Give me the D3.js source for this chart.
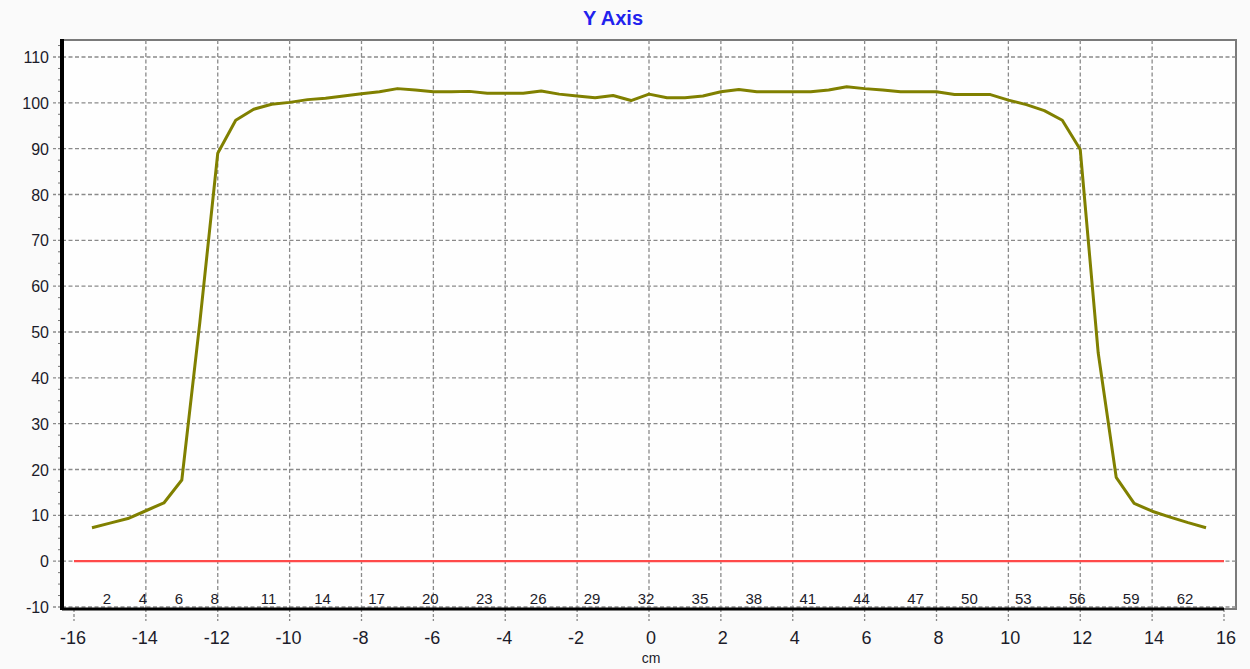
<!DOCTYPE html>
<html>
<head>
<meta charset="utf-8">
<script src="https://cdn.jsdelivr.net/npm/d3@7"></script>
<style>
  body { margin: 0; background: #fafafa; }
  svg { display: block; font-family: "Liberation Sans", Arial, sans-serif; }
</style>
</head>
<body>
<svg id="drawing_region"></svg>
<script>
// profile positions (cm)
const positions = [
  -15.5, -15, -14.5, -14, -13.5, -13, -12.5, -12, -11.5, -11, -10.5, -10,
  -9.5, -9, -8.5, -8, -7.5, -7, -6.5, -6, -5.5, -5, -4.5, -4, -3.5, -3,
  -2.5, -2, -1.5, -1, -0.5, 0, 0.5, 1, 1.5, 2, 2.5, 3, 3.5, 4, 4.5, 5,
  5.5, 6, 6.5, 7, 7.5, 8, 8.5, 9, 9.5, 10, 10.5, 11, 11.5, 12, 12.5, 13,
  13.5, 14, 14.5, 15, 15.5
];
// measured dose (%)
const doses = [
  7.3, 8.3, 9.3, 11.0, 12.7, 17.7, 52.0, 89.0, 96.2, 98.6, 99.7, 100.1,
  100.7, 101.0, 101.5, 102.0, 102.4, 103.1, 102.8, 102.4, 102.4, 102.5, 102.1, 102.1, 102.1, 102.6,
  101.9, 101.5, 101.1, 101.6, 100.5, 101.9, 101.1, 101.1, 101.5, 102.4, 102.9, 102.4, 102.4, 102.4, 102.4, 102.8,
  103.5, 103.1, 102.8, 102.4, 102.4, 102.4, 101.8, 101.8, 101.8, 100.6, 99.6, 98.3, 96.2, 89.8, 45.4, 18.3,
  12.6, 10.9, 9.6, 8.4, 7.3
];
// point numbers shown along the bottom
const pointLabels = [2, 4, 6, 8, 11, 14, 17, 20, 23, 26, 29, 32, 35, 38, 41, 44, 47, 50, 53, 56, 59, 62];
const xTicks = [-16, -14, -12, -10, -8, -6, -4, -2, 0, 2, 4, 6, 8, 10, 12, 14, 16];
const yTicks = [-10, 0, 10, 20, 30, 40, 50, 60, 70, 80, 90, 100, 110];
const yMinorTicks = [-7.5, -5, -2.5, 2.5, 5, 7.5, 12.5, 15, 17.5, 22.5, 25, 27.5, 32.5, 35, 37.5,
  42.5, 45, 47.5, 52.5, 55, 57.5, 62.5, 65, 67.5, 72.5, 75, 77.5, 82.5, 85, 87.5,
  92.5, 95, 97.5, 102.5, 105, 107.5, 112.5];
const baseline = [{x: -16, y: 0}, {x: 16, y: 0}];

class ProfileChart {
  constructor( config, data ) {
    this.config = {
      parent: config.parent,
      width: config.width || 1250,
      height: config.height || 669,
      frame: config.frame
    };
    this.data = data;
    this.init();
  }

  init() {
    let self = this;
    self.svg = d3.select( self.config.parent )
      .attr('width', self.config.width)
      .attr('height', self.config.height);

    self.xscale = d3.scaleLinear().domain([-16, 16]).range([74, 1224]);
    self.yscale = d3.scaleLinear().domain([-10, 110]).range([607, 57]);

    self.svg.append('rect')
      .attr('width', self.config.width).attr('height', self.config.height)
      .attr('fill', '#fafafa');
  }

  render() {
    let self = this;
    const f = self.config.frame;
    const dash = '4,2.5';

    // plot area + frame
    self.svg.append('rect')
      .attr('x', f.left).attr('y', f.top)
      .attr('width', f.right - f.left).attr('height', f.bottom - f.top)
      .attr('fill', '#fefefe').attr('stroke', '#7a7a7a').attr('stroke-width', 2);

    // grid
    self.svg.append('g').selectAll('line')
      .data(yTicks).enter().append('line')
      .attr('x1', f.left).attr('x2', f.right)
      .attr('y1', d => self.yscale(d)).attr('y2', d => self.yscale(d))
      .attr('stroke', '#8a8a8a').attr('stroke-width', 1.3).attr('stroke-dasharray', dash);
    self.svg.append('g').selectAll('line')
      .data(xTicks.filter(d => d > -16 && d < 16)).enter().append('line')
      .attr('x1', d => self.xscale(d)).attr('x2', d => self.xscale(d))
      .attr('y1', f.top).attr('y2', f.bottom)
      .attr('stroke', '#8a8a8a').attr('stroke-width', 1.3).attr('stroke-dasharray', dash);

    // ticks outside the axes
    self.svg.append('g').selectAll('line')
      .data(yTicks).enter().append('line')
      .attr('x1', f.left - 9).attr('x2', f.left)
      .attr('y1', d => self.yscale(d)).attr('y2', d => self.yscale(d))
      .attr('stroke', '#8a8a8a').attr('stroke-width', 1.3).attr('stroke-dasharray', '3,2');
    self.svg.append('g').selectAll('line')
      .data(yMinorTicks).enter().append('line')
      .attr('x1', f.left - 4).attr('x2', f.left)
      .attr('y1', d => self.yscale(d)).attr('y2', d => self.yscale(d))
      .attr('stroke', '#777').attr('stroke-width', 1);
    self.svg.append('g').selectAll('line')
      .data(xTicks).enter().append('line')
      .attr('x1', d => self.xscale(d)).attr('x2', d => self.xscale(d))
      .attr('y1', f.bottom).attr('y2', f.bottom + 12)
      .attr('stroke', '#8a8a8a').attr('stroke-width', 1.3).attr('stroke-dasharray', '3,2');

    // axes lines
    self.svg.append('line')
      .attr('x1', f.left).attr('x2', f.left).attr('y1', f.top - 1).attr('y2', f.bottom + 1)
      .attr('stroke', '#000').attr('stroke-width', 4);
    self.svg.append('line')
      .attr('x1', f.left).attr('x2', self.xscale(16)).attr('y1', f.bottom).attr('y2', f.bottom)
      .attr('stroke', '#000').attr('stroke-width', 3);

    // tick labels
    self.svg.append('g').selectAll('text')
      .data(yTicks).enter().append('text')
      .attr('x', 49).attr('y', d => self.yscale(d) + 6)
      .attr('text-anchor', 'end').attr('font-size', '16px').attr('fill', '#1c1c2a')
      .text(d => d);
    self.svg.append('g').selectAll('text')
      .data(xTicks).enter().append('text')
      .attr('x', d => self.xscale(d) + (d < 0 ? -1 : 2)).attr('y', 644)
      .attr('text-anchor', 'middle').attr('font-size', '18px').attr('fill', '#1c1c2a')
      .text(d => d);

    self.svg.append('text')
      .attr('x', 651).attr('y', 663)
      .attr('text-anchor', 'middle').attr('font-size', '14px').attr('fill', '#1c1c2a')
      .text('cm');

    // point numbers
    self.svg.append('g').selectAll('text')
      .data(pointLabels).enter().append('text')
      .attr('x', d => self.xscale(positions[d - 1]) - 3).attr('y', 604)
      .attr('text-anchor', 'middle').attr('font-size', '15px').attr('fill', '#1c1c2a')
      .text(d => d);

    // title
    self.svg.append('text')
      .attr('x', 613).attr('y', 25)
      .attr('text-anchor', 'middle').attr('font-size', '20px').attr('font-weight', 'bold')
      .attr('fill', '#2222ee')
      .text('Y Axis');

    // baseline at 0
    const line = d3.line().x(d => self.xscale(d.x)).y(d => self.yscale(d.y));
    self.svg.append('path')
      .attr('d', line(baseline))
      .attr('fill', 'none').attr('stroke', '#ff4a4a').attr('stroke-width', 2.2);

    // profile
    self.svg.append('path')
      .attr('d', line(self.data))
      .attr('fill', 'none').attr('stroke', '#808000').attr('stroke-width', 3)
      .attr('stroke-linejoin', 'round');
  }
}

const data = positions.map((p, i) => ({x: p, y: doses[i]}));
const chart = new ProfileChart({
  parent: '#drawing_region',
  width: 1250,
  height: 669,
  frame: {left: 62, right: 1236, top: 40, bottom: 609}
}, data);
chart.render();
</script>
</body>
</html>
